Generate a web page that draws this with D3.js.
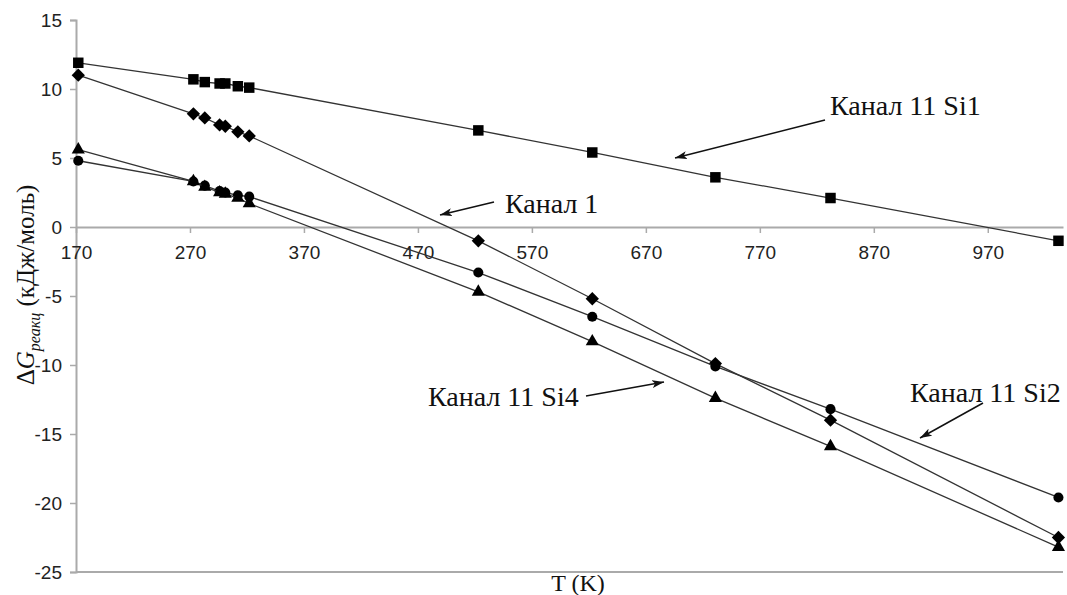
<!DOCTYPE html>
<html>
<head>
<meta charset="utf-8">
<script src="https://cdn.jsdelivr.net/npm/d3@7/dist/d3.min.js"></script>
<style>
  body { margin: 0; background: #fff; }
  svg { display: block; }
  .tick-label { font-family: "Liberation Sans", Arial, sans-serif; font-size: 19px; fill: #222; }
  .serif { font-family: "Liberation Serif", "Times New Roman", "DejaVu Serif", serif; fill: #111; }
  .note { font-size: 28px; }
</style>
</head>
<body>
<svg id="chart" width="1067" height="595"></svg>
<script>
// temperatures (K)
var temps = [172, 273, 283, 296, 301, 312, 322, 523, 623, 731, 832, 1032];
// ΔG, kJ/mol
var kanal11Si1 = [11.9, 10.7, 10.5, 10.4, 10.4, 10.2, 10.1, 7.0, 5.4, 3.6, 2.1, -1.0];
var kanal1     = [11.0, 8.2, 7.9, 7.4, 7.3, 6.9, 6.6, -1.0, -5.2, -9.9, -14.0, -22.5];
var kanal11Si2 = [4.8, 3.3, 3.0, 2.6, 2.5, 2.3, 2.2, -3.3, -6.5, -10.1, -13.2, -19.6];
var kanal11Si4 = [5.6, 3.3, 2.9, 2.5, 2.4, 2.1, 1.7, -4.7, -8.3, -12.4, -15.9, -23.2];
var xTicks = [170, 270, 370, 470, 570, 670, 770, 870, 970];
var yTicks = [15, 10, 5, 0, -5, -10, -15, -20, -25];

var svg = d3.select("#chart");

var x = d3.scaleLinear().domain([170, 1036]).range([76, 1063]);
var y = d3.scaleLinear().domain([-25, 15]).range([572, 20]);

// bottom border of plot area
svg.append("line")
  .attr("x1", x(170)).attr("x2", x(1036))
  .attr("y1", y(-25)).attr("y2", y(-25))
  .attr("stroke", "#aaa").attr("stroke-width", 2);

// y axis
var yAxis = d3.axisLeft(y).tickValues(yTicks).tickSize(6).tickFormat(d3.format("d"));
var gy = svg.append("g").attr("transform", "translate(" + x(170) + ",0)").call(yAxis);
gy.select(".domain").attr("stroke", "#aaa").attr("stroke-width", 2);
gy.selectAll(".tick line").attr("stroke", "#aaa").attr("stroke-width", 1.5);
gy.selectAll(".tick text").attr("class", "tick-label").attr("x", -14)
  .text(function (d) { return d; });

// x axis crossing at y = 0
var xAxis = d3.axisBottom(x).tickValues(xTicks).tickSize(6).tickSizeOuter(0);
var gx = svg.append("g").attr("transform", "translate(0," + y(0) + ")").call(xAxis);
gx.select(".domain").attr("stroke", "#aaa").attr("stroke-width", 2);
gx.selectAll(".tick line").attr("stroke", "#aaa").attr("stroke-width", 1.5);
gx.selectAll(".tick text").attr("class", "tick-label").attr("dy", null).attr("y", 32)
  .text(function (d) { return d; });

var diamond = {
  draw: function (ctx, size) {
    var r = Math.sqrt(size) / 2 * 1.4;
    ctx.moveTo(0, -r); ctx.lineTo(r, 0); ctx.lineTo(0, r); ctx.lineTo(-r, 0); ctx.closePath();
  }
};

var series = [
  { name: "Канал 11 Si1", values: kanal11Si1, symbol: d3.symbolSquare, size: 110 },
  { name: "Канал 1", values: kanal1, symbol: diamond, size: 90 },
  { name: "Канал 11 Si2", values: kanal11Si2, symbol: d3.symbolCircle, size: 80 },
  { name: "Канал 11 Si4", values: kanal11Si4, symbol: d3.symbolTriangle, size: 75 }
];

var line = d3.line()
  .x(function (d) { return x(d[0]); })
  .y(function (d) { return y(d[1]); });

series.forEach(function (s) {
  var pts = temps.map(function (t, i) { return [t, s.values[i]]; });
  svg.append("path").datum(pts)
    .attr("d", line)
    .attr("fill", "none")
    .attr("stroke", "#333")
    .attr("stroke-width", 1.3);
  svg.append("g").selectAll("path").data(pts).enter().append("path")
    .attr("d", d3.symbol().type(s.symbol).size(s.size))
    .attr("transform", function (d) { return "translate(" + x(d[0]) + "," + y(d[1]) + ")"; })
    .attr("fill", "#000");
});

// annotations with arrows
svg.append("defs").append("marker")
  .attr("id", "arr").attr("viewBox", "0 0 12 8").attr("refX", 12).attr("refY", 4)
  .attr("markerWidth", 12).attr("markerHeight", 8).attr("markerUnits", "userSpaceOnUse")
  .attr("orient", "auto")
  .append("path").attr("d", "M0,0 L12,4 L0,8 L3,4 Z").attr("fill", "#111");

var notes = [
  { text: "Канал 11 Si1", tx: 830, ty: 115, from: [825, 120], to: [675, 158] },
  { text: "Канал 1", tx: 505, ty: 213, from: [494, 202], to: [440, 215] },
  { text: "Канал 11 Si2", tx: 910, ty: 402, from: [983, 403], to: [920, 438] },
  { text: "Канал 11 Si4", tx: 428, ty: 406, from: [586, 396], to: [664, 382] }
];
notes.forEach(function (n) {
  svg.append("text").attr("class", "serif note").attr("x", n.tx).attr("y", n.ty).text(n.text);
  svg.append("line")
    .attr("x1", n.from[0]).attr("y1", n.from[1])
    .attr("x2", n.to[0]).attr("y2", n.to[1])
    .attr("stroke", "#111").attr("stroke-width", 1.5)
    .attr("marker-end", "url(#arr)");
});

// axis titles
svg.append("text")
  .attr("class", "serif")
  .attr("x", 578).attr("y", 591)
  .attr("text-anchor", "middle")
  .attr("font-size", 24)
  .text("T (K)");

var yt = svg.append("text")
  .attr("class", "serif")
  .attr("transform", "translate(34,285) rotate(-90)")
  .attr("text-anchor", "middle")
  .attr("font-size", 25);
yt.append("tspan").text("Δ");
yt.append("tspan").attr("font-style", "italic").text("G");
yt.append("tspan").attr("font-style", "italic").attr("font-size", 16).attr("dy", 6).text("реакц");
yt.append("tspan").attr("dy", -6).text("  (кДж/моль)");
</script>
</body>
</html>
